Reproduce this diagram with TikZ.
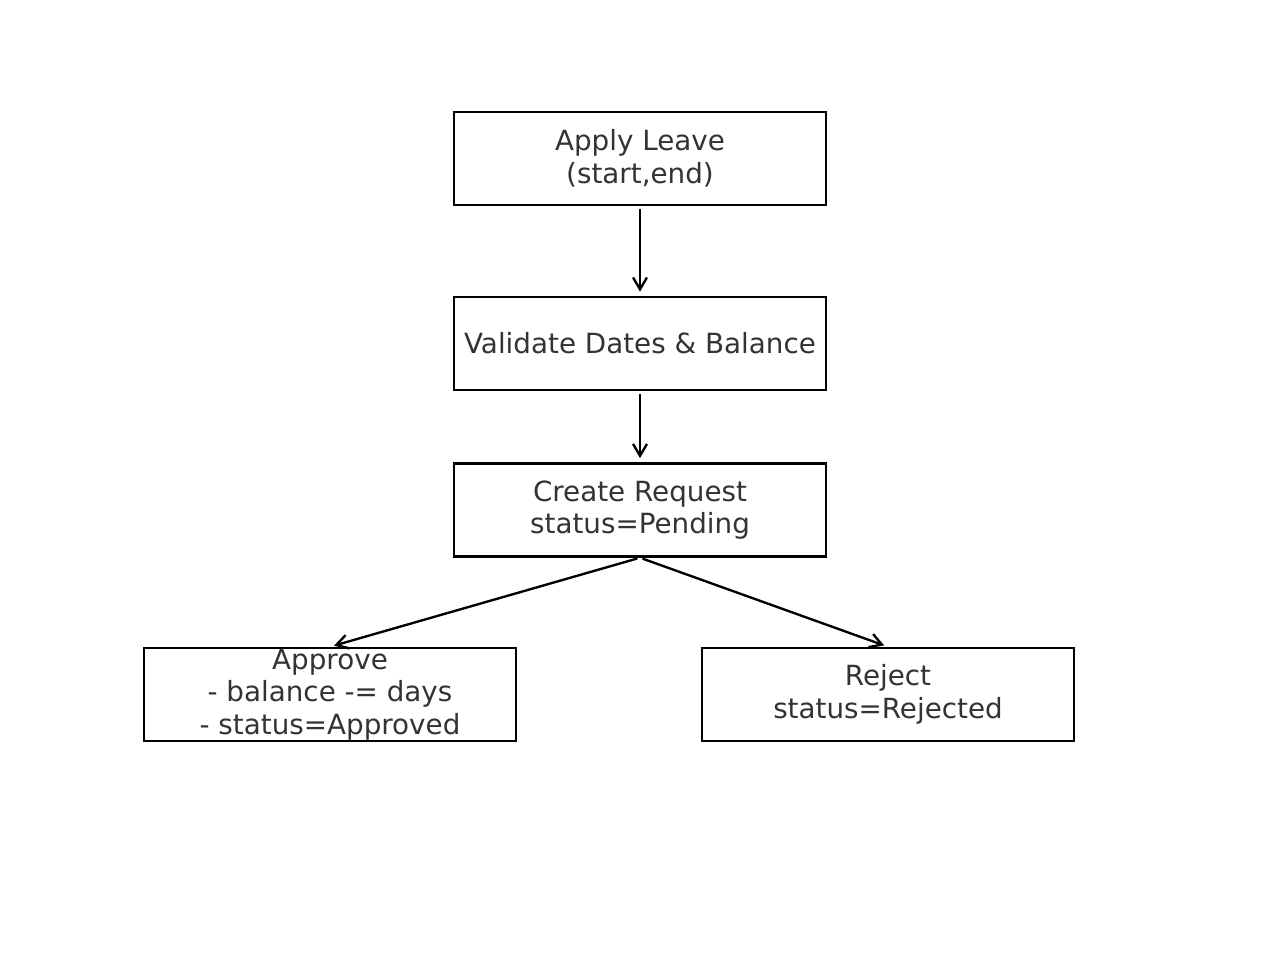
\documentclass[tikz,border=0pt]{standalone}
\usepackage{fontspec}
\setmainfont{DejaVu Sans}
\usetikzlibrary{arrows.meta}
\definecolor{txtgray}{HTML}{333333}
\begin{document}
\begin{tikzpicture}[x=0.72pt,y=-0.72pt]
\tikzstyle{every node}=[draw,line width=1.7pt,minimum width=267.8pt,minimum height=67pt,inner sep=0pt,align=center,text=txtgray,font=\fontsize{20}{23.4}\selectfont]
\tikzstyle{arr}=[line width=1.7pt,-{Straight Barb[length=8.5pt,width=10pt,line width=1.7pt]},shorten <=2pt,shorten >=3pt]
\useasboundingbox (0,0) rectangle (1280,964);
\node[rectangle](apply) at (640,158.5) {Apply Leave\\(start,end)};
\node[rectangle](validate) at (640,343.5) {Validate Dates \& Balance};
\node[rectangle](create) at (640,510) {Create Request\\status=Pending};
\node[rectangle](approve) at (330,694.5) {Approve\\- balance -= days\\- status=Approved};
\node[rectangle](reject) at (888,694.5) {Reject\\status=Rejected};
\draw[arr] (apply) -- (validate);
\draw[arr] (validate) -- (create);
\draw[arr] (create.south) -- (approve.north);
\draw[arr] (create.south) -- (reject.north);
\end{tikzpicture}
\end{document}
